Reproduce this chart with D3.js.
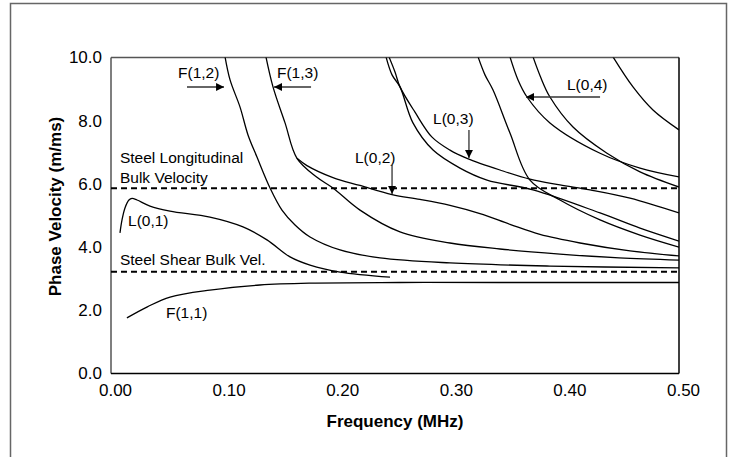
<!DOCTYPE html>
<html>
<head>
	<meta charset="utf-8">
	<title>Phase velocity</title>
	<script type="text/javascript" src="https://d3js.org/d3.v7.min.js"></script>
	<style>
		body { margin: 0; background: #fff; }
		text { font-family: "Liberation Sans", Arial, sans-serif; fill: #000; }
	</style>
</head>
<body>
	<div id="chart"></div>
	<script>
	// dispersion curves, frequency (MHz) vs phase velocity (m/ms)
	var f11 = [[0.014,1.76],[0.032,2.11],[0.052,2.42],[0.087,2.64],[0.131,2.80],[0.175,2.86],[0.254,2.88],[0.342,2.88],[0.500,2.88]];
	var l01 = [[0.0079,4.45],[0.0097,4.86],[0.0123,5.24],[0.0158,5.49],[0.0185,5.54],[0.0229,5.49],[0.0343,5.30],[0.0519,5.14],[0.0871,4.95],[0.1162,4.64],[0.1373,4.23],[0.1576,3.69],[0.1752,3.43],[0.2016,3.21],[0.2456,3.05]];
	var f12 = [[0.1004,10.02],[0.1048,9.29],[0.1136,8.43],[0.1206,7.55],[0.1285,6.85],[0.1400,5.87],[0.1505,5.17],[0.1620,4.70],[0.1752,4.32],[0.2016,3.91],[0.2368,3.66],[0.2984,3.50],[0.3864,3.40],[0.5,3.34]];
	var f13 = [[0.1364,10.02],[0.1426,9.07],[0.1532,7.93],[0.1637,6.81],[0.1813,6.21],[0.1954,5.87],[0.2192,5.17],[0.2544,4.48],[0.2984,4.13],[0.3424,3.94],[0.3952,3.78],[0.4472,3.66],[0.5,3.59]];
	var l02 = [[0.1637,6.81],[0.1725,6.58],[0.1954,6.20],[0.2192,5.95],[0.2474,5.66],[0.2720,5.51],[0.2984,5.32],[0.3248,5.06],[0.3512,4.72],[0.3776,4.40],[0.4129,4.13],[0.4569,3.88],[0.5,3.72]];
	var f14 = [[0.2421,10.02],[0.2474,9.45],[0.2544,9.07],[0.2658,7.93],[0.2835,7.07],[0.3072,6.50],[0.3310,6.12],[0.3715,5.81],[0.4305,5.08],[0.4657,4.60],[0.5,4.19]];
	var l03 = [[0.2447,10.02],[0.2500,9.54],[0.2544,9.07],[0.2676,8.27],[0.2826,7.48],[0.2984,7.07],[0.3134,6.81],[0.3424,6.44],[0.3688,6.15],[0.3952,5.97],[0.4217,5.81],[0.4569,5.55],[0.5,5.08]];
	var f15 = [[0.3231,10.02],[0.3292,9.45],[0.3363,8.97],[0.3512,7.61],[0.3688,6.12],[0.3952,5.49],[0.4305,4.86],[0.4657,4.38],[0.5,4.00]];
	var l04 = [[0.3512,10.02],[0.3583,9.29],[0.3662,8.75],[0.3864,7.93],[0.4305,6.97],[0.4657,6.50],[0.5,6.22]];
	var f16 = [[0.3715,10.02],[0.3785,9.35],[0.3864,8.75],[0.4067,7.80],[0.4366,6.97],[0.4657,6.38],[0.5,5.90]];
	var f17 = [[0.4419,10.02],[0.4595,9.07],[0.4771,8.34],[0.5,7.71]];
	var curves = [f11, l01, f12, f13, l02, f14, l03, f15, l04, f16, f17];

	var bulkLong = 5.86;
	var bulkShear = 3.22;

	var xTicks = [0, 0.1, 0.2, 0.3, 0.4, 0.5];
	var yTicks = [0, 2, 4, 6, 8, 10];

	// labels: text, frequency, velocity (left baseline)
	var labels = [
		["F(1,2)", 0.0590, 9.337],
		["F(1,3)", 0.1461, 9.337],
		["L(0,2)", 0.2148, 6.677],
		["L(0,3)", 0.2835, 7.911],
		["L(0,4)", 0.4014, 8.956],
		["Steel Longitudinal", 0.0079, 6.677],
		["Bulk Velocity", 0.0079, 6.044],
		["Steel Shear Bulk Vel.", 0.0079, 3.418],
		["L(0,1)", 0.0150, 4.652],
		["F(1,1)", 0.0484, 1.772]
	];
	// arrows: from (f, v) to (f, v)
	var arrows = [
		[0.0669, 9.066, 0.0995, 9.066],
		[0.1761, 9.066, 0.1435, 9.066],
		[0.2474, 6.598, 0.2474, 5.680],
		[0.3151, 7.706, 0.3151, 6.820],
		[0.4305, 8.750, 0.3653, 8.750]
	];

	var width = 733;
	var height = 457;
	var margin = {left: 111, right: 54, top: 57.5, bottom: 83.5};
	var w = width - margin.left - margin.right;
	var h = height - margin.top - margin.bottom;

	var svg = d3.select("#chart")
				.append("svg")
					.attr("width", width)
					.attr("height", height);

	// outer frame
	svg.append("rect")
		.attr("x", 10.5).attr("y", 3.5)
		.attr("width", 716).attr("height", 470)
		.attr("fill", "none")
		.attr("stroke", "#666")
		.attr("stroke-width", 1.5);

	var x = d3.scaleLinear().domain([0, 0.5]).range([margin.left, margin.left + w]);
	var y = d3.scaleLinear().domain([0, 10]).range([margin.top + h, margin.top]);

	svg.append("defs").append("clipPath").attr("id", "clip")
		.append("rect")
		.attr("x", margin.left).attr("y", margin.top)
		.attr("width", w).attr("height", h);

	svg.append("defs").append("marker")
		.attr("id", "head")
		.attr("viewBox", "0 0 10 10")
		.attr("refX", 10).attr("refY", 5)
		.attr("markerWidth", 10).attr("markerHeight", 8)
		.attr("markerUnits", "userSpaceOnUse")
		.attr("orient", "auto")
		.append("path")
		.attr("d", "M0,0 L10,5 L0,10 Z")
		.attr("fill", "#000");

	// plot border: gray top/left, black right/bottom
	svg.append("line")
		.attr("x1", x(0)).attr("x2", x(0.5)).attr("y1", y(10)).attr("y2", y(10))
		.attr("stroke", "#555").attr("stroke-width", 1.5);
	svg.append("line")
		.attr("x1", x(0)).attr("x2", x(0)).attr("y1", y(10)).attr("y2", y(0))
		.attr("stroke", "#555").attr("stroke-width", 1.5);
	svg.append("line")
		.attr("x1", x(0.5)).attr("x2", x(0.5)).attr("y1", y(10)).attr("y2", y(0))
		.attr("stroke", "#000").attr("stroke-width", 1.5);
	svg.append("line")
		.attr("x1", x(0)).attr("x2", x(0.5)).attr("y1", y(0)).attr("y2", y(0))
		.attr("stroke", "#000").attr("stroke-width", 1.5);

	// axes
	var xAxis = svg.append("g")
		.attr("transform", "translate(0," + y(0) + ")")
		.call(d3.axisBottom(x).tickValues(xTicks).tickFormat(d3.format(".2f")).tickSize(0).tickPadding(10));
	xAxis.select(".domain").remove();
	xAxis.selectAll("text").attr("dx", 4).style("font-size", "17px");

	var yAxis = svg.append("g")
		.attr("transform", "translate(" + x(0) + ",0)")
		.call(d3.axisLeft(y).tickValues(yTicks).tickFormat(d3.format(".1f")).tickSize(0).tickPadding(9));
	yAxis.select(".domain").remove();
	yAxis.selectAll("text").style("font-size", "17px");

	svg.append("text")
		.attr("x", x(0.25)).attr("y", 427)
		.attr("text-anchor", "middle")
		.style("font-size", "17px").style("font-weight", "bold")
		.text("Frequency (MHz)");

	svg.append("text")
		.attr("transform", "translate(61," + 206.5 + ") rotate(-90)")
		.attr("text-anchor", "middle")
		.style("font-size", "17px").style("font-weight", "bold")
		.text("Phase Velocity (m/ms)");

	// bulk velocity lines
	svg.selectAll(".bulk")
		.data([bulkLong, bulkShear])
		.enter()
		.append("line")
		.attr("x1", x(0)).attr("x2", x(0.5))
		.attr("y1", function(d){ return y(d); })
		.attr("y2", function(d){ return y(d); })
		.attr("stroke", "#000")
		.attr("stroke-width", 2)
		.attr("stroke-dasharray", "6,4");

	var line = d3.line()
		.x(function(d){ return x(d[0]); })
		.y(function(d){ return y(d[1]); })
		.curve(d3.curveCatmullRom.alpha(0.5));

	svg.append("g")
		.attr("clip-path", "url(#clip)")
		.selectAll("path")
		.data(curves)
		.enter()
		.append("path")
		.attr("d", line)
		.attr("fill", "none")
		.attr("stroke", "#000")
		.attr("stroke-width", 1.3);

	svg.selectAll(".lab")
		.data(labels)
		.enter()
		.append("text")
		.attr("x", function(d){ return x(d[1]); })
		.attr("y", function(d){ return y(d[2]); })
		.style("font-size", "15.5px")
		.text(function(d){ return d[0]; });

	svg.selectAll(".arrow")
		.data(arrows)
		.enter()
		.append("line")
		.attr("x1", function(d){ return x(d[0]); })
		.attr("y1", function(d){ return y(d[1]); })
		.attr("x2", function(d){ return x(d[2]); })
		.attr("y2", function(d){ return y(d[3]); })
		.attr("stroke", "#333")
		.attr("stroke-width", 1.3)
		.attr("marker-end", "url(#head)");
	</script>
</body>
</html>
